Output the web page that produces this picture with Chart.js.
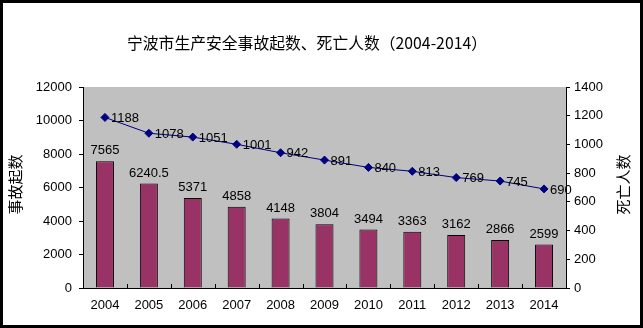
<!DOCTYPE html>
<html>
<head>
<meta charset="utf-8">
<script src="https://cdn.jsdelivr.net/npm/chart.js@4/dist/chart.umd.min.js"></script>
<style>
  html, body { margin: 0; padding: 0; background: #000; width: 643px; height: 328px; overflow: hidden; }
  #frame { position: absolute; left: 3px; top: 3px; width: 637px; height: 322px; background: #fff; }
</style>
</head>
<body>
<div id="frame"><canvas id="c"></canvas></div>
<script>
// 宁波市生产安全事故：起数（柱）与死亡人数（折线）
const years = ['2004', '2005', '2006', '2007', '2008', '2009', '2010', '2011', '2012', '2013', '2014'];
const accidents = [7565, 6240.5, 5371, 4858, 4148, 3804, 3494, 3363, 3162, 2866, 2599];
const deaths = [1188, 1078, 1051, 1001, 942, 891, 840, 813, 769, 745, 690];
const leftTicks = [0, 2000, 4000, 6000, 8000, 10000, 12000];
const rightTicks = [0, 200, 400, 600, 800, 1000, 1200, 1400];

const chartTitle = '宁波市生产安全事故起数、死亡人数（2004-2014）';
const leftTitle = '事故起数';
const rightTitle = '死亡人数';

const NUM_FAMILY = '"Liberation Sans", Arial, sans-serif';
const NUM_FONT = '13px ' + NUM_FAMILY;
const TITLE_FONT = '15.8px "Noto Sans CJK SC", sans-serif';
const AXIS_TITLE_FONT = '15px "Noto Sans CJK SC", sans-serif';

// grey plot background
const plotBackground = {
  id: 'plotBackground',
  beforeDraw(chart) {
    const { ctx, chartArea: a } = chart;
    ctx.save();
    ctx.fillStyle = '#c0c0c0';
    ctx.fillRect(a.left, a.top, a.right - a.left, a.bottom - a.top);
    ctx.restore();
  }
};

// short inward tick marks between the categories on the x axis
const innerCategoryTicks = {
  id: 'innerCategoryTicks',
  afterDatasetsDraw(chart) {
    const { ctx, chartArea: a } = chart;
    const xs = chart.scales.x;
    ctx.save();
    ctx.strokeStyle = '#000';
    ctx.lineWidth = 1;
    ctx.beginPath();
    for (let i = 0; i < years.length - 1; i++) {
      const x = Math.round((xs.getPixelForTick(i) + xs.getPixelForTick(i + 1)) / 2) + 0.5;
      ctx.moveTo(x, a.bottom);
      ctx.lineTo(x, a.bottom - 4);
    }
    ctx.stroke();
    ctx.restore();
  }
};

// value labels above bars and beside line points
const valueLabels = {
  id: 'valueLabels',
  afterDatasetsDraw(chart) {
    const ctx = chart.ctx;
    ctx.save();
    ctx.font = NUM_FONT;
    ctx.fillStyle = '#000';
    chart.data.datasets.forEach((ds, i) => {
      const meta = chart.getDatasetMeta(i);
      meta.data.forEach((el, j) => {
        const v = ds.data[j];
        if (ds.type === 'bar') {
          ctx.textAlign = 'center';
          ctx.textBaseline = 'bottom';
          ctx.fillText(String(v), el.x, el.y - 4);
        } else {
          ctx.textAlign = 'left';
          ctx.textBaseline = 'middle';
          ctx.fillText(String(v), el.x + 6, el.y + 1);
        }
      });
    });
    ctx.restore();
  }
};

// chart title and the two axis titles (both read bottom-to-top)
const titles = {
  id: 'titles',
  afterDraw(chart) {
    const { ctx, chartArea: a } = chart;
    const midY = (a.top + a.bottom) / 2 - 3;
    ctx.save();
    ctx.fillStyle = '#000';
    ctx.textAlign = 'center';
    ctx.textBaseline = 'middle';
    ctx.font = TITLE_FONT;
    ctx.fillText(chartTitle, 304, 40);
    ctx.font = AXIS_TITLE_FONT;
    [[12.5, leftTitle], [620, rightTitle]].forEach(([x, t]) => {
      ctx.save();
      ctx.translate(x, midY);
      ctx.rotate(-Math.PI / 2);
      ctx.fillText(t, 0, 0);
      ctx.restore();
    });
    ctx.restore();
  }
};

const plainNumber = v => String(v);

new Chart(document.getElementById('c'), {
  data: {
    labels: years,
    datasets: [
      {
        type: 'line',
        label: rightTitle,
        data: deaths,
        yAxisID: 'y1',
        borderColor: '#000080',
        borderWidth: 1,
        backgroundColor: '#000080',
        pointStyle: 'rectRot',
        pointRadius: 4,
        pointHoverRadius: 4,
        pointBackgroundColor: '#000080',
        pointBorderColor: '#000080',
        tension: 0,
        order: 0
      },
      {
        type: 'bar',
        label: leftTitle,
        data: accidents,
        yAxisID: 'y',
        backgroundColor: '#993366',
        borderColor: '#000',
        borderWidth: 1,
        barPercentage: 0.41,
        categoryPercentage: 1,
        order: 1
      }
    ]
  },
  options: {
    responsive: true,
    maintainAspectRatio: false,
    devicePixelRatio: 1,
    animation: false,
    layout: { padding: { top: 84, left: 0, right: 0, bottom: 0 } },
    plugins: {
      legend: { display: false },
      title: { display: false },
      tooltip: { enabled: false }
    },
    scales: {
      x: {
        offset: true,
        grid: { display: true, drawOnChartArea: false, drawTicks: false, color: '#000' },
        border: { display: true, color: '#000', width: 1 },
        ticks: { color: '#000', font: { family: NUM_FAMILY, size: 13 }, padding: 10, maxRotation: 0, autoSkip: false },
        afterFit(s) { s.height = 37; }
      },
      y: {
        position: 'left',
        min: 0,
        max: 12000,
        afterBuildTicks(s) { s.ticks = leftTicks.map(v => ({ value: v })); },
        grid: { drawOnChartArea: false, drawTicks: true, tickLength: 4, color: '#000' },
        border: { display: true, color: '#000', width: 1 },
        ticks: { color: '#000', font: { family: NUM_FAMILY, size: 13 }, padding: 7, callback: plainNumber },
        afterFit(s) { s.width = 80; }
      },
      y1: {
        position: 'right',
        min: 0,
        max: 1400,
        afterBuildTicks(s) { s.ticks = rightTicks.map(v => ({ value: v })); },
        grid: { drawOnChartArea: false, drawTicks: true, tickLength: 4, color: '#000' },
        border: { display: true, color: '#000', width: 1 },
        ticks: { color: '#000', font: { family: NUM_FAMILY, size: 13 }, padding: 4, callback: plainNumber },
        afterFit(s) { s.width = 74; }
      }
    }
  },
  plugins: [plotBackground, innerCategoryTicks, valueLabels, titles]
});
</script>
</body>
</html>
